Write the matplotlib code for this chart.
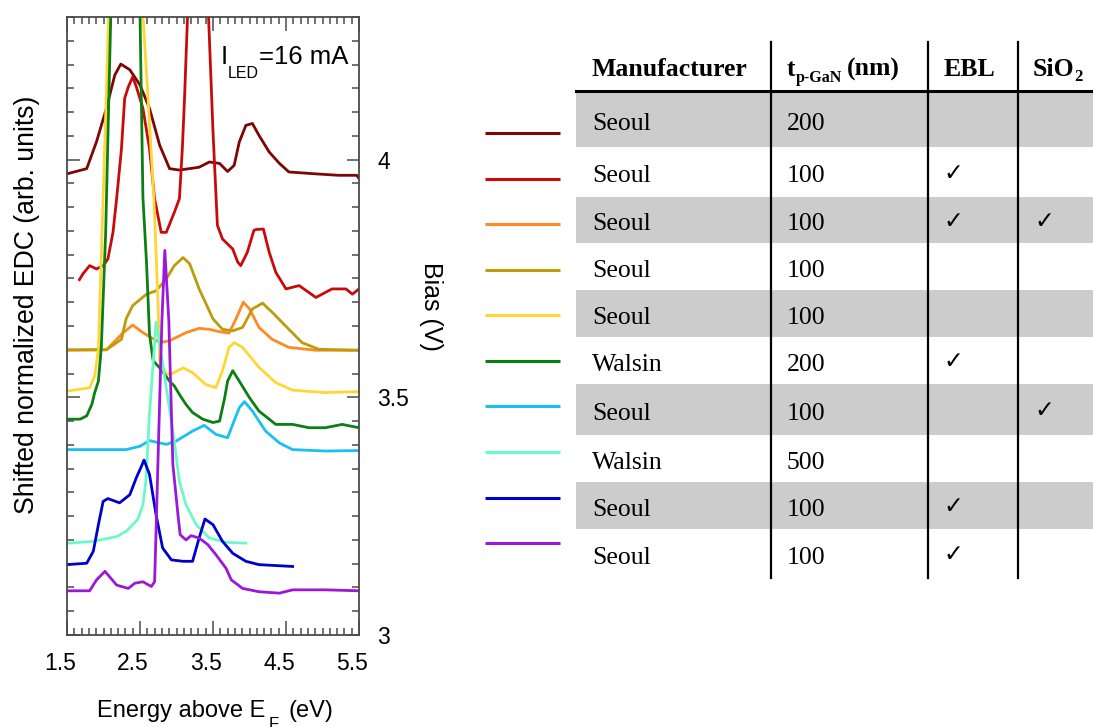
import matplotlib
matplotlib.use("Agg")
import matplotlib.pyplot as plt
from matplotlib.ticker import MultipleLocator, FormatStrFormatter
from matplotlib.transforms import ScaledTranslation
from matplotlib.patches import Rectangle

# ---------------- data ----------------
maroon_x = [1.50, 1.77, 1.905, 2.04, 2.155, 2.237, 2.36, 2.50, 2.63, 2.77, 2.905, 3.04, 3.31, 3.45,
            3.59, 3.70, 3.79, 3.86, 3.95, 4.04, 4.13, 4.27, 4.41, 4.54, 4.91, 5.22, 5.47, 5.50]
maroon_y = [3.970, 3.981, 4.038, 4.108, 4.178, 4.201, 4.189, 4.157, 4.108, 4.030, 3.981, 3.978, 3.984, 3.995,
            3.992, 3.975, 3.988, 4.037, 4.072, 4.076, 4.051, 4.016, 3.992, 3.974, 3.970, 3.967, 3.967, 3.960]

red_x = [1.66, 1.72, 1.81, 1.905, 1.995, 2.06, 2.13, 2.18, 2.246, 2.29, 2.34, 2.40, 2.45, 2.54, 2.63,
         2.70, 2.79, 2.86, 2.97, 3.04, 3.08, 3.11, 3.15, 3.30, 3.44, 3.50, 3.56, 3.63, 3.77, 3.84, 3.88,
         3.97, 4.06, 4.09, 4.19, 4.27, 4.36, 4.50, 4.68, 4.91, 5.13, 5.32, 5.41, 5.50]
red_y = [3.745, 3.760, 3.777, 3.770, 3.777, 3.791, 3.847, 3.918, 4.023, 4.129, 4.153, 4.174, 4.153, 4.108, 4.023,
         3.918, 3.847, 3.847, 3.889, 3.918, 4.023, 4.129, 4.297, 4.800, 4.297, 4.059, 3.862, 3.833, 3.812, 3.784, 3.777,
         3.805, 3.851, 3.853, 3.854, 3.805, 3.763, 3.728, 3.735, 3.710, 3.728, 3.728, 3.717, 3.728]

orange_x = [1.50, 2.04, 2.27, 2.40, 2.54, 2.77, 2.905, 3.13, 3.31, 3.45, 3.59, 3.72, 3.815, 3.915,
            4.00, 4.13, 4.31, 4.54, 4.91, 5.50]
orange_y = [3.599, 3.600, 3.636, 3.652, 3.636, 3.615, 3.619, 3.636, 3.645, 3.643, 3.638, 3.635, 3.665, 3.700,
            3.686, 3.647, 3.622, 3.605, 3.599, 3.599]

olive_x = [1.50, 2.04, 2.246, 2.31, 2.40, 2.59, 2.72, 2.86, 2.97, 3.09, 3.18, 3.31, 3.50, 3.63, 3.77,
           3.905, 4.04, 4.18, 4.31, 4.54, 4.72, 4.95, 5.50]
olive_y = [3.600, 3.600, 3.622, 3.665, 3.693, 3.717, 3.724, 3.749, 3.777, 3.794, 3.781, 3.728, 3.665, 3.643, 3.640,
           3.647, 3.686, 3.698, 3.679, 3.643, 3.615, 3.601, 3.599]

yellow_x = [1.50, 1.81, 1.88, 1.93, 2.04, 2.07, 2.30, 2.54, 2.61, 2.69, 2.745, 2.77, 2.86, 2.93, 3.09, 3.22,
            3.40, 3.54, 3.63, 3.72, 3.79, 3.905, 4.13, 4.36, 4.59, 5.04, 5.50]
yellow_y = [3.513, 3.520, 3.545, 3.601, 4.143, 4.305, 4.900, 4.305, 4.129, 3.918, 3.707, 3.577, 3.549, 3.549, 3.562, 3.552,
            3.527, 3.520, 3.556, 3.605, 3.615, 3.605, 3.563, 3.531, 3.515, 3.510, 3.512]

green_x = [1.50, 1.68, 1.77, 1.84, 1.88, 1.93, 1.97, 2.03, 2.10, 2.30, 2.50, 2.54, 2.59, 2.63, 2.68, 2.77,
           2.905, 2.97, 3.04, 3.13, 3.22, 3.36, 3.50, 3.59, 3.66, 3.70, 3.77, 3.86, 4.00, 4.13, 4.36,
           4.59, 4.815, 5.04, 5.27, 5.50]
green_y = [3.454, 3.454, 3.461, 3.485, 3.510, 3.534, 3.605, 3.848, 4.305, 4.900, 4.305, 3.921, 3.781, 3.633, 3.577, 3.562,
           3.534, 3.524, 3.506, 3.485, 3.468, 3.454, 3.447, 3.450, 3.499, 3.534, 3.556, 3.534, 3.499, 3.471, 3.443,
           3.443, 3.436, 3.436, 3.443, 3.436]

sky_x = [1.50, 1.86, 2.31, 2.50, 2.63, 2.77, 2.86, 2.995, 3.22, 3.38, 3.54, 3.70, 3.77, 3.86, 3.93,
         4.04, 4.22, 4.41, 4.59, 5.04, 5.50]
sky_y = [3.390, 3.390, 3.390, 3.397, 3.409, 3.404, 3.401, 3.408, 3.429, 3.441, 3.422, 3.415, 3.443, 3.478, 3.491,
         3.471, 3.429, 3.404, 3.390, 3.387, 3.388]

aqua_x = [1.50, 1.86, 2.18, 2.31, 2.47, 2.54, 2.58, 2.63, 2.72, 2.81, 2.95, 3.04, 3.13, 3.27, 3.45, 3.68, 3.97]
aqua_y = [3.193, 3.197, 3.207, 3.218, 3.243, 3.274, 3.323, 3.464, 3.658, 3.570, 3.429, 3.323, 3.274, 3.232, 3.204, 3.195, 3.193]

blue_x = [1.50, 1.77, 1.86, 1.93, 1.995, 2.06, 2.22, 2.36, 2.45, 2.52, 2.555, 2.63, 2.72, 2.81, 2.93, 3.09,
          3.22, 3.31, 3.39, 3.50, 3.63, 3.77, 3.95, 4.13, 4.61]
blue_y = [3.148, 3.151, 3.176, 3.232, 3.281, 3.287, 3.278, 3.295, 3.331, 3.355, 3.368, 3.338, 3.253, 3.183, 3.158, 3.155,
          3.155, 3.204, 3.244, 3.232, 3.197, 3.172, 3.155, 3.148, 3.144]

purple_x = [1.50, 1.81, 1.905, 2.02, 2.18, 2.34, 2.43, 2.54, 2.655, 2.70, 2.72, 2.745, 2.80, 2.84, 2.895,
            2.95, 3.02, 3.05, 3.13, 3.20, 3.31, 3.43, 3.54, 3.68, 3.75, 3.905, 4.13, 4.41, 4.59, 5.04, 5.50]
purple_y = [3.093, 3.093, 3.116, 3.134, 3.105, 3.098, 3.109, 3.112, 3.102, 3.112, 3.218, 3.359, 3.661, 3.809, 3.661,
            3.359, 3.253, 3.211, 3.200, 3.209, 3.204, 3.190, 3.169, 3.140, 3.116, 3.098, 3.091, 3.088, 3.095, 3.095, 3.093]

series_x = [maroon_x, red_x, orange_x, olive_x, yellow_x, green_x, sky_x, aqua_x, blue_x, purple_x]
series_y = [maroon_y, red_y, orange_y, olive_y, yellow_y, green_y, sky_y, aqua_y, blue_y, purple_y]
colors = ["#7d0505", "#c80a0a", "#ff8a1e", "#bd9b0b", "#ffd633",
          "#0b7f12", "#19c0f2", "#6cf9c8", "#0000cc", "#9a18d9"]

manufacturers = ["Seoul", "Seoul", "Seoul", "Seoul", "Seoul", "Walsin", "Seoul", "Walsin", "Seoul", "Seoul"]
thickness = ["200", "100", "100", "100", "100", "200", "100", "500", "100", "100"]
ebl = [False, True, True, False, False, True, False, False, True, True]
sio2 = [False, False, True, False, False, False, True, False, False, False]

x_ticks = [1.5, 2.5, 3.5, 4.5, 5.5]
bias_ticks = [3.0, 3.5, 4.0]

# ---------------- figure ----------------
W, H = 1093, 727
fig = plt.figure(figsize=(W / 100, H / 100), dpi=100)
SANS = "Liberation Sans"
SERIF = "Liberation Serif"
spine_c = "#4a4a4a"

ax = fig.add_axes([67 / W, 1 - 635 / H, (359 - 67) / W, (635 - 17) / H])
for xs, ys, c in zip(series_x, series_y, colors):
    ax.plot(xs, ys, color=c, lw=2.0, solid_joinstyle="round", solid_capstyle="butt")

ax.set_xlim(1.5, 5.5)
ax.set_ylim(3.0, 4.30)
ax.xaxis.set_major_locator(plt.FixedLocator(x_ticks))
ax.xaxis.set_minor_locator(MultipleLocator(0.1))
ax.yaxis.set_major_locator(plt.FixedLocator(bias_ticks))
ax.yaxis.set_minor_locator(MultipleLocator(0.05))
ax.yaxis.set_major_formatter(FormatStrFormatter("%g"))
ax.xaxis.set_major_formatter(FormatStrFormatter("%.1f"))
for s in ax.spines.values():
    s.set_color(spine_c)
    s.set_linewidth(1.3)
ax.tick_params(axis="x", which="both", direction="in", top=True, bottom=True,
               color=spine_c, width=1.1, labelsize=16.5, pad=12)
ax.tick_params(axis="x", which="major", length=10)
ax.tick_params(axis="x", which="minor", length=5)
ax.tick_params(axis="y", which="both", direction="in", left=True, right=True,
               labelleft=False, labelright=True, color=spine_c, width=1.1,
               labelsize=16.5, pad=13)
ax.tick_params(axis="y", which="major", length=9)
ax.tick_params(axis="y", which="minor", length=5)
for lab in ax.get_xticklabels() + ax.get_yticklabels():
    lab.set_fontfamily(SANS)
for lab in ax.get_xticklabels():
    lab.set_transform(lab.get_transform() + ScaledTranslation(-7 / 100, 0, fig.dpi_scale_trans))

# ---------------- overlay in pixel coordinates ----------------
tab = fig.add_axes([0, 0, 1, 1], facecolor="none")
tab.set_xlim(0, W)
tab.set_ylim(H, 0)
tab.axis("off")
rend = fig.canvas.get_renderer()


def chain(x, pieces):
    for s, y, size, dx, kw in pieces:
        x += dx
        t = tab.text(x, y, s, fontsize=size, ha="left", va="baseline", **kw)
        x += t.get_window_extent(renderer=rend).width
    return x


# axis labels
tab.text(27, 305, "Shifted normalized EDC (arb. units)", rotation=90, ha="center", va="center",
         fontsize=19.2, family=SANS)
tab.text(431, 306, "Bias (V)", rotation=270, ha="center", va="center", fontsize=18, family=SANS)
chain(97, [("Energy above E", 717, 17, 0, dict(family=SANS)),
           ("F", 729, 12, 3, dict(family=SANS)),
           ("(eV)", 717, 17, 10, dict(family=SANS))])
chain(221, [("I", 64, 18.5, 0, dict(family=SANS)),
            ("LED", 78, 11.5, 0, dict(family=SANS)),
            ("=16 mA", 64, 18.5, 0, dict(family=SANS))])

# table
row_edges = [91, 147, 197, 243, 290, 337, 384, 435, 482, 529, 578]
legend_y = [133, 179, 224, 270, 315, 361, 406, 452, 498, 543]
x_tab0 = 576
for i in range(len(manufacturers)):
    top, bot = row_edges[i], row_edges[i + 1]
    if i % 2 == 0:
        tab.add_patch(Rectangle((x_tab0, top), W - x_tab0, bot - top, facecolor="#cccccc",
                                edgecolor="none", zorder=0))
    base = (top + bot) / 2 + 10.5
    tab.text(592, base, manufacturers[i], fontsize=18.5, family=SERIF, va="baseline")
    tab.text(787, base, thickness[i], fontsize=18.5, family=SERIF, va="baseline")
    if ebl[i]:
        tab.text(953, base - 10, "\u2713", fontsize=17, family="DejaVu Sans", ha="center", va="center")
    if sio2[i]:
        tab.text(1044, base - 10, "\u2713", fontsize=17, family="DejaVu Sans", ha="center", va="center")
    tab.plot([485, 560], [legend_y[i], legend_y[i]], color=colors[i], lw=2.2, solid_capstyle="butt")

tab.plot([x_tab0, W], [91, 91], color="black", lw=2.2, zorder=3)
for xv in [771, 928, 1018]:
    tab.plot([xv, xv], [42, 578], color="black", lw=1.6, zorder=3)

hb = 76
tab.text(592, hb, "Manufacturer", fontsize=18.5, family=SERIF, weight="bold", va="baseline")
chain(787, [("t", hb, 18.5, 0, dict(family=SERIF, weight="bold")),
            ("p-GaN", hb + 6, 11.5, 0, dict(family=SERIF, weight="bold")),
            ("(nm)", hb, 18.5, 5, dict(family=SERIF, weight="bold"))])
tab.text(944, hb, "EBL", fontsize=18.5, family=SERIF, weight="bold", va="baseline")
chain(1033, [("SiO", hb, 18.5, 0, dict(family=SERIF, weight="bold")),
             ("2", hb + 5, 12, 0, dict(family=SERIF, weight="bold"))])

fig.savefig("out.png", dpi=100)
